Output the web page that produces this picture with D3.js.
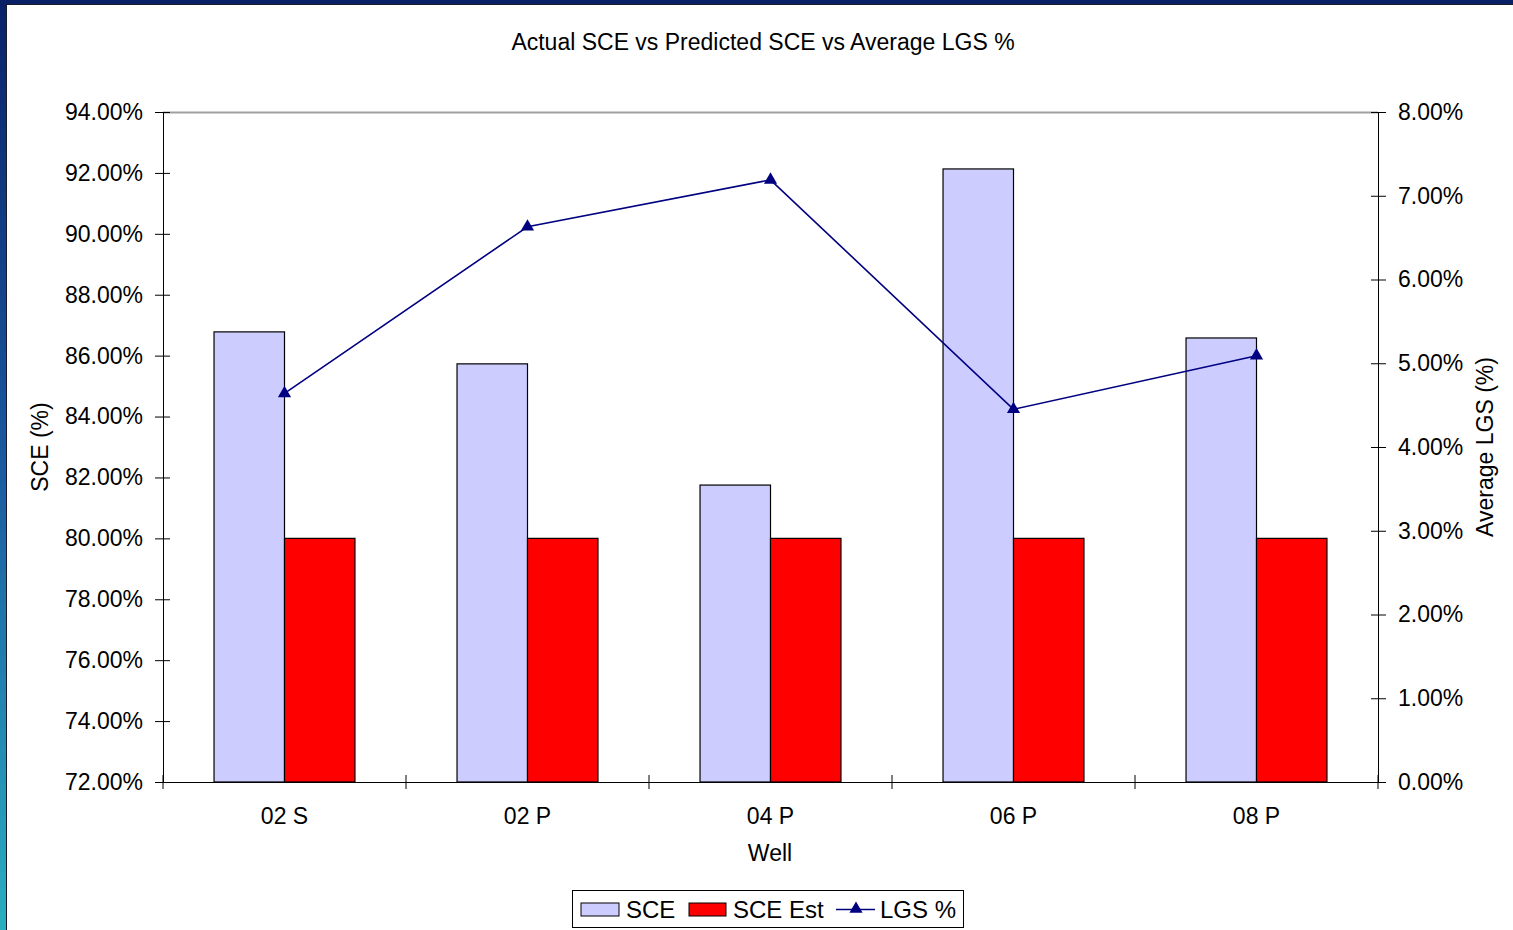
<!DOCTYPE html>
<html><head><meta charset="utf-8">
<script src="https://cdn.jsdelivr.net/npm/d3@7"></script>
<style>body{margin:0;overflow:hidden;background:#fff}svg{display:block;font-family:"Liberation Sans",Arial,sans-serif}</style>
</head><body><svg id="c" width="1513" height="930"></svg>
<script>
const categories = ["02 S", "02 P", "04 P", "06 P", "08 P"];
const sce = [86.78, 85.73, 81.75, 92.13, 86.58];
const sceEst = [80.0, 80.0, 80.0, 80.0, 80.0];
const lgs = [4.64, 6.63, 7.19, 4.45, 5.09];
const leftTicks = [72, 74, 76, 78, 80, 82, 84, 86, 88, 90, 92, 94];
const rightTicks = [0, 1, 2, 3, 4, 5, 6, 7, 8];

const svg = d3.select("#c");
const defs = svg.append("defs");
const g1 = defs.append("linearGradient").attr("id","frame").attr("x1",0).attr("y1",0).attr("x2",0).attr("y2",1);
g1.append("stop").attr("offset","0").attr("stop-color","#0a2168");
g1.append("stop").attr("offset","0.5").attr("stop-color","#1a5aa0");
g1.append("stop").attr("offset","1").attr("stop-color","#2aaec0");
svg.append("rect").attr("width",1513).attr("height",930).attr("fill","url(#frame)");
svg.append("rect").attr("x",0).attr("y",0).attr("width",1513).attr("height",5).attr("fill","#0a2168");
svg.append("rect").attr("x",6.5).attr("y",4.5).attr("width",1510).attr("height",930).attr("fill","#fff").attr("stroke","#1a1a2a").attr("stroke-width",1);

const L = 163, R = 1378, T = 112, B = 782;
const x = d3.scaleBand().domain(categories).range([L, R]);
const y = d3.scaleLinear().domain([72, 94]).range([B, T]);
const y2 = d3.scaleLinear().domain([0, 8]).range([B, T]);
const bw = x.bandwidth() * 0.29;

svg.append("line").attr("x1",L).attr("x2",R).attr("y1",T+0.5).attr("y2",T+0.5).attr("stroke","#a0a0a0").attr("stroke-width",2);

svg.append("g").selectAll("rect").data(categories).join("rect")
  .attr("x", (d)=>x(d)+x.bandwidth()/2-bw).attr("y",(d,i)=>y(sce[i]))
  .attr("width",bw).attr("height",(d,i)=>B-y(sce[i]))
  .attr("fill","#ccccff").attr("stroke","#000").attr("stroke-width",1.2);
svg.append("g").selectAll("rect").data(categories).join("rect")
  .attr("x", (d)=>x(d)+x.bandwidth()/2).attr("y",(d,i)=>y(sceEst[i]))
  .attr("width",bw).attr("height",(d,i)=>B-y(sceEst[i]))
  .attr("fill","#ff0000").attr("stroke","#000").attr("stroke-width",1.2);

const fmt = d => d.toFixed(2) + "%";
const ax = (sel)=>sel.selectAll("text").attr("fill","#000").style("font-size","23px");
const gl = svg.append("g").attr("transform",`translate(${L},0)`)
  .call(d3.axisLeft(y).tickValues(leftTicks).tickFormat(fmt).tickSizeInner(8).tickSizeOuter(0).tickPadding(12));
gl.selectAll(".tick line").attr("x2",-8).attr("x1",7);
gl.select(".domain").attr("stroke","#000");
ax(gl);
const gr = svg.append("g").attr("transform",`translate(${R},0)`)
  .call(d3.axisRight(y2).tickValues(rightTicks).tickFormat(fmt).tickSizeInner(8).tickSizeOuter(0).tickPadding(12));
gr.selectAll(".tick line").attr("x2",8).attr("x1",-7);
gr.select(".domain").attr("stroke","#000");
ax(gr);
const gb = svg.append("g").attr("transform",`translate(0,${B})`)
  .call(d3.axisBottom(x).tickSize(0).tickPadding(26));
gb.select(".domain").attr("stroke","#000");
ax(gb);
const bt = [...categories.map(c=>x(c)), R];
gb.selectAll(".sep").data(bt).join("line").attr("class","sep")
  .attr("x1",d=>d).attr("x2",d=>d).attr("y1",-7).attr("y2",7).attr("stroke","#000");

const cx = (i)=>x(categories[i])+x.bandwidth()/2;
svg.append("path").datum(lgs).attr("fill","none").attr("stroke","#000080").attr("stroke-width",1.6)
  .attr("d", d3.line().x((d,i)=>cx(i)).y(d=>y2(d)));
const tri = d3.symbol().type(d3.symbolTriangle).size(75);
svg.append("g").selectAll("path").data(lgs).join("path")
  .attr("d",tri).attr("transform",(d,i)=>`translate(${cx(i)},${y2(d)})`).attr("fill","#000080");

svg.append("text").attr("x",763).attr("y",50).attr("text-anchor","middle").style("font-size","23px").text("Actual SCE vs Predicted SCE vs Average LGS %");
svg.append("text").attr("transform","translate(48,447) rotate(-90)").attr("text-anchor","middle").style("font-size","23px").text("SCE (%)");
svg.append("text").attr("transform","translate(1493,447) rotate(-90)").attr("text-anchor","middle").style("font-size","23px").text("Average LGS (%)");
svg.append("text").attr("x",770).attr("y",861).attr("text-anchor","middle").style("font-size","23px").text("Well");

const lg = svg.append("g");
lg.append("rect").attr("x",572.5).attr("y",890.5).attr("width",391).attr("height",37).attr("fill","#fff").attr("stroke","#000").attr("stroke-width",1);
lg.append("rect").attr("x",581).attr("y",903).attr("width",38).attr("height",13).attr("fill","#ccccff").attr("stroke","#000");
lg.append("text").attr("x",626).attr("y",918).style("font-size","24px").text("SCE");
lg.append("rect").attr("x",689).attr("y",903).attr("width",37).attr("height",13).attr("fill","#ff0000").attr("stroke","#000");
lg.append("text").attr("x",733).attr("y",918).style("font-size","24px").text("SCE Est");
lg.append("line").attr("x1",836).attr("x2",875).attr("y1",909.5).attr("y2",909.5).attr("stroke","#000080").attr("stroke-width",1.6);
lg.append("path").attr("d",tri).attr("transform","translate(856,909)").attr("fill","#000080");
lg.append("text").attr("x",880).attr("y",918).style("font-size","24px").text("LGS %");
</script></body></html>
